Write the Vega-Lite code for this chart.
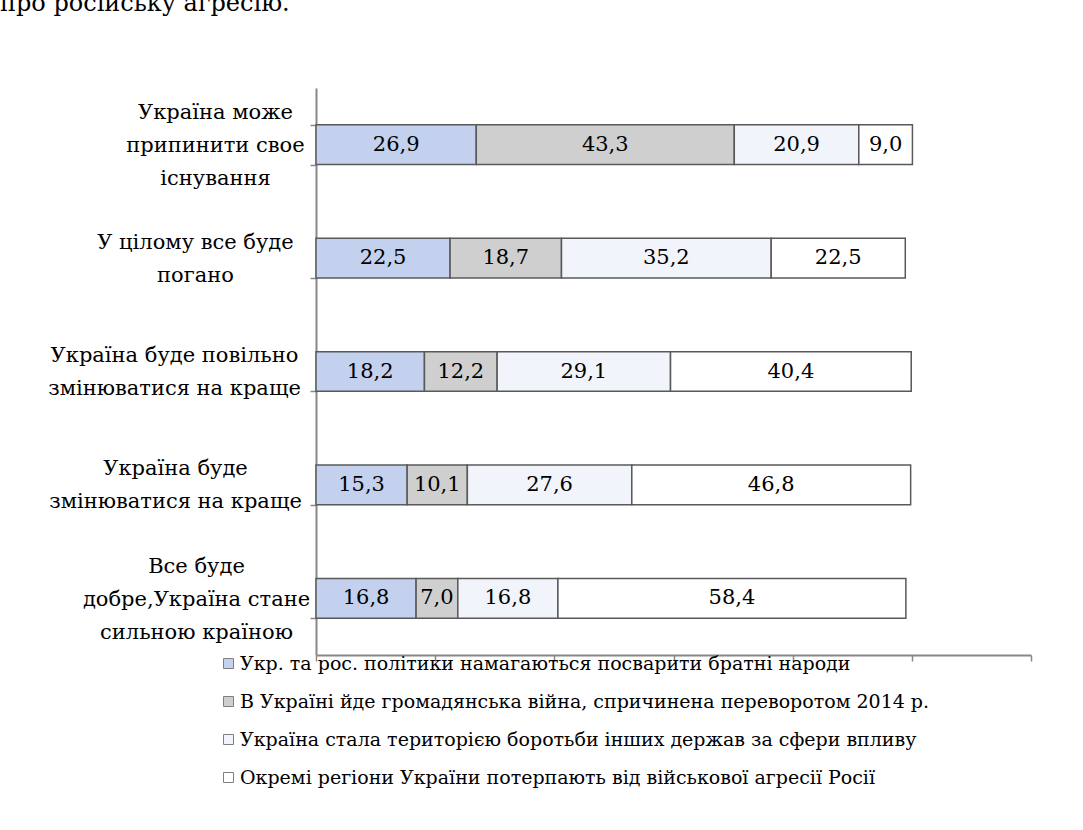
{
  "$schema": "https://vega.github.io/schema/vega-lite/v6.json",
  "width": 715,
  "height": 567,
  "autosize": {"type": "none"},
  "padding": {"left": 316, "top": 88, "right": 52, "bottom": 175},
  "background": "white",
  "title": {
    "text": "про російську агресію.",
    "anchor": "start",
    "frame": "group",
    "dx": -316,
    "offset": 42,
    "baseline": "alphabetic",
    "font": "DejaVu Serif",
    "fontSize": 24,
    "fontWeight": "normal",
    "color": "black"
  },
  "data": {
    "values": [
      {"cat": "Україна може|припинити свое|існування", "s": "Укр. та рос. політики намагаються посварити братні народи", "o": 1, "v": 26.9},
      {"cat": "Україна може|припинити свое|існування", "s": "В Україні йде громадянська війна, спричинена переворотом 2014 р.", "o": 2, "v": 43.3},
      {"cat": "Україна може|припинити свое|існування", "s": "Україна стала територією боротьби інших держав за сфери впливу", "o": 3, "v": 20.9},
      {"cat": "Україна може|припинити свое|існування", "s": "Окремі регіони України потерпають від військової агресії Росії", "o": 4, "v": 9.0},
      {"cat": "У цілому все буде|погано", "s": "Укр. та рос. політики намагаються посварити братні народи", "o": 1, "v": 22.5},
      {"cat": "У цілому все буде|погано", "s": "В Україні йде громадянська війна, спричинена переворотом 2014 р.", "o": 2, "v": 18.7},
      {"cat": "У цілому все буде|погано", "s": "Україна стала територією боротьби інших держав за сфери впливу", "o": 3, "v": 35.2},
      {"cat": "У цілому все буде|погано", "s": "Окремі регіони України потерпають від військової агресії Росії", "o": 4, "v": 22.5},
      {"cat": "Україна буде повільно|змінюватися на краще", "s": "Укр. та рос. політики намагаються посварити братні народи", "o": 1, "v": 18.2},
      {"cat": "Україна буде повільно|змінюватися на краще", "s": "В Україні йде громадянська війна, спричинена переворотом 2014 р.", "o": 2, "v": 12.2},
      {"cat": "Україна буде повільно|змінюватися на краще", "s": "Україна стала територією боротьби інших держав за сфери впливу", "o": 3, "v": 29.1},
      {"cat": "Україна буде повільно|змінюватися на краще", "s": "Окремі регіони України потерпають від військової агресії Росії", "o": 4, "v": 40.4},
      {"cat": "Україна буде|змінюватися на краще", "s": "Укр. та рос. політики намагаються посварити братні народи", "o": 1, "v": 15.3},
      {"cat": "Україна буде|змінюватися на краще", "s": "В Україні йде громадянська війна, спричинена переворотом 2014 р.", "o": 2, "v": 10.1},
      {"cat": "Україна буде|змінюватися на краще", "s": "Україна стала територією боротьби інших держав за сфери впливу", "o": 3, "v": 27.6},
      {"cat": "Україна буде|змінюватися на краще", "s": "Окремі регіони України потерпають від військової агресії Росії", "o": 4, "v": 46.8},
      {"cat": "Все буде|добре,Україна стане|сильною країною", "s": "Укр. та рос. політики намагаються посварити братні народи", "o": 1, "v": 16.8},
      {"cat": "Все буде|добре,Україна стане|сильною країною", "s": "В Україні йде громадянська війна, спричинена переворотом 2014 р.", "o": 2, "v": 7.0},
      {"cat": "Все буде|добре,Україна стане|сильною країною", "s": "Україна стала територією боротьби інших держав за сфери впливу", "o": 3, "v": 16.8},
      {"cat": "Все буде|добре,Україна стане|сильною країною", "s": "Окремі регіони України потерпають від військової агресії Росії", "o": 4, "v": 58.4}
    ]
  },
  "transform": [
    {"stack": "v", "groupby": ["cat"], "sort": [{"field": "o"}], "as": ["v0", "v1"]},
    {"calculate": "(datum.v0 + datum.v1) / 2", "as": "mid"},
    {"calculate": "replace(format(datum.v, '.1f'), '.', ',')", "as": "lbl"}
  ],
  "encoding": {
    "y": {
      "field": "cat",
      "type": "nominal",
      "sort": null,
      "title": null,
      "scale": {"paddingInner": 0.65, "paddingOuter": 0.325},
      "axis": {
        "labelExpr": "split(datum.label, '|')",
        "labelAlign": "center",
        "labelBaseline": "middle",
        "labelPadding": {
          "condition": [
            {"test": "datum.value == 'Україна може|припинити свое|існування'", "value": 95},
            {"test": "datum.value == 'У цілому все буде|погано'", "value": 115},
            {"test": "datum.value == 'Україна буде повільно|змінюватися на краще'", "value": 136},
            {"test": "datum.value == 'Україна буде|змінюватися на краще'", "value": 135}
          ],
          "value": 114
        },
        "labelLineHeight": 33,
        "labelOffset": {"condition": {"test": "length(split(datum.value, '|')) == 3", "value": -32}, "value": -16},
        "labelFont": "DejaVu Serif",
        "labelFontSize": 21,
        "labelColor": "black",
        "labelLimit": 400,
        "tickBand": "extent",
        "tickSize": 6,
        "tickColor": "#888888",
        "tickWidth": 1.5,
        "domainColor": "#888888",
        "domainWidth": 2
      }
    }
  },
  "layer": [
    {
      "mark": {"type": "bar", "stroke": "#595959", "strokeWidth": 1.5},
      "encoding": {
        "x": {
          "field": "v0",
          "type": "quantitative",
          "scale": {"domain": [0, 120], "nice": false},
          "title": null,
          "axis": {
            "values": [0, 20, 40, 60, 80, 100, 120],
            "labels": false,
            "grid": false,
            "tickSize": 6,
            "tickColor": "#888888",
            "tickWidth": 1.5,
            "domainColor": "#888888",
            "domainWidth": 2
          }
        },
        "x2": {"field": "v1"},
        "fill": {
          "field": "s",
          "type": "nominal",
          "sort": null,
          "title": null,
          "scale": {
            "domain": [
              "Укр. та рос. політики намагаються посварити братні народи",
              "В Україні йде громадянська війна, спричинена переворотом 2014 р.",
              "Україна стала територією боротьби інших держав за сфери впливу",
              "Окремі регіони України потерпають від військової агресії Росії"
            ],
            "range": ["#c3d1ee", "#d0cfcf", "#f1f4fb", "#ffffff"]
          },
          "legend": {
            "orient": "none",
            "legendX": -97,
            "legendY": 566,
            "direction": "vertical",
            "symbolType": "square",
            "symbolSize": 100,
            "symbolStrokeColor": "#7f7f7f",
            "symbolStrokeWidth": 1,
            "symbolOpacity": 1,
            "labelFont": "DejaVu Serif",
            "labelFontSize": 19,
            "labelColor": "black",
            "labelLimit": 900,
            "labelOffset": 2,
            "rowPadding": 18
          }
        }
      }
    },
    {
      "mark": {"type": "text", "font": "DejaVu Serif", "fontSize": 21, "color": "black", "baseline": "middle", "align": "center"},
      "encoding": {
        "x": {"field": "mid", "type": "quantitative"},
        "text": {"field": "lbl", "type": "nominal"}
      }
    }
  ],
  "config": {
    "view": {"stroke": null}
  }
}
